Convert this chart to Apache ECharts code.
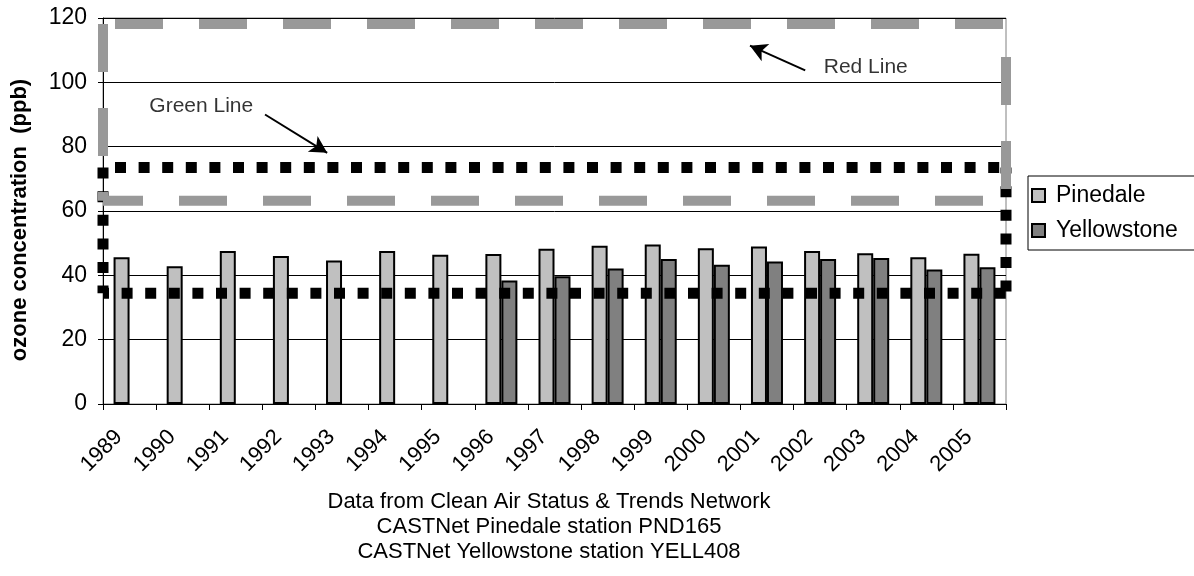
<!DOCTYPE html>
<html>
<head>
<meta charset="utf-8">
<script src="https://cdn.jsdelivr.net/npm/echarts@6/dist/echarts.min.js"></script>
<style>
html,body{margin:0;padding:0;background:#fff;}
#c{width:1194px;height:576px;}
</style>
</head>
<body>
<div id="c"></div>
<script>
// ---- data ----
const years = ['1989','1990','1991','1992','1993','1994','1995','1996','1997','1998','1999','2000','2001','2002','2003','2004','2005'];
const pinedale = [45.6, 42.8, 47.6, 46.0, 44.6, 47.6, 46.4, 46.6, 48.3, 49.2, 49.6, 48.4, 49.0, 47.6, 46.9, 45.6, 46.7];
const yellowstone = [null, null, null, null, null, null, null, 38.4, 39.7, 42.1, 45.1, 43.3, 44.3, 45.1, 45.4, 41.8, 42.5];
const yTicks = [0, 20, 40, 60, 80, 100, 120];
const greenBand = [73.5, 34.4];   // top, bottom (ppb)
const redBand = [118.1, 63.2];    // top, bottom (ppb)
const greenLabel = ['Green Line', 1.85, 92.5];
const greenArrow = [[3.05, 90.0], [4.22, 78.1]];
const redLabel = ['Red Line', 14.36, 104.6];
const redArrow = [[13.22, 103.7], [12.18, 111.4]];
const captionLines = ['Data from Clean Air Status & Trends Network', 'CASTNet Pinedale station PND165', 'CASTNet Yellowstone station YELL408'];

const FONT = '"Liberation Sans", Arial, Helvetica, sans-serif';
const n = years.length;

// one line series per side of a band rectangle, each with its own dash phase
function sides(name, band, style, offsets, z) {
  const [top, bot] = band;
  const segs = [
    [[0, top], [n, top]],   // top, left->right
    [[n, top], [n, bot]],   // right, top->bottom
    [[0, bot], [n, bot]],   // bottom, left->right
    [[0, top], [0, bot]]    // left, top->bottom
  ];
  return segs.map((d, i) => ({
    name: name + i, type: 'line', xAxisIndex: 1, data: d, symbol: 'none', silent: true, z: z,
    lineStyle: Object.assign({}, style, {dashOffset: offsets[i]})
  }));
}

const chart = echarts.init(document.getElementById('c'), null, {renderer:'canvas'});
chart.setOption({
  animation: false,
  textStyle: {fontFamily: FONT},
  grid: {left: 103, right: 188, top: 18, bottom: 172, show: true, borderColor: '#808080', borderWidth: 1, backgroundColor: 'transparent'},
  legend: {
    data: ['Pinedale', 'Yellowstone'],
    orient: 'vertical', left: 1028, top: 176,
    padding: [8, 60, 8, 3],
    borderColor: '#000', borderWidth: 1,
    itemWidth: 13, itemHeight: 13, itemGap: 12,
    icon: 'rect',
    textStyle: {fontFamily: FONT, fontSize: 23, color: '#000', padding: [0, 0, 0, 6]}
  },
  xAxis: [
    {type: 'category', data: years, boundaryGap: true,
     axisLine: {lineStyle: {color: '#000', width: 1}},
     axisTick: {show: true, interval: 0, length: 6, lineStyle: {color: '#000'}},
     axisLabel: {interval: 0, rotate: 45, fontSize: 22, color: '#000', margin: 19, padding: [0, 15, 0, 0], fontFamily: FONT},
     splitLine: {show: false}},
    {type: 'value', min: 0, max: n, show: false}
  ],
  yAxis: {
    type: 'value', min: yTicks[0], max: yTicks[yTicks.length-1], interval: 20,
    name: 'ozone concentration  (ppb)', nameLocation: 'middle', nameGap: 72,
    nameTextStyle: {fontFamily: FONT, fontSize: 22, fontWeight: 'bold', color: '#000', padding: [0, 18, 0, 0]},
    axisLine: {show: true, lineStyle: {color: '#000'}},
    axisTick: {show: true, length: 5, lineStyle: {color: '#000'}},
    axisLabel: {fontSize: 23, color: '#000', margin: 16, fontFamily: FONT},
    splitLine: {show: true, lineStyle: {color: '#000', width: 1}}
  },
  series: [
    {name: 'Pinedale', type: 'bar', data: pinedale, barWidth: 16, barGap: '0%', z: 2,
     itemStyle: {color: '#c0c0c0', borderColor: '#000', borderWidth: 2}},
    {name: 'Yellowstone', type: 'bar', data: yellowstone, barWidth: 16, barGap: '0%', z: 2,
     itemStyle: {color: '#808080', borderColor: '#000', borderWidth: 2}},
    ...sides('green', greenBand, {color: '#000', width: 11, type: [11, 12.6], cap: 'butt'}, [11.6, 5, 5, 0], 5),
    ...sides('red', redBand, {color: '#999999', width: 10, type: [48, 36], cap: 'butt'}, [72, 51, 8, 0], 6),
    {name: 'notes', type: 'scatter', xAxisIndex: 1, symbolSize: 0, silent: true, z: 7,
     data: [[greenLabel[1], greenLabel[2], greenLabel[0]], [redLabel[1], redLabel[2], redLabel[0]]],
     label: {show: true, position: 'inside', formatter: p => p.value[2], fontFamily: FONT, fontSize: 21, color: '#000'},
     markLine: {silent: true, symbol: ['none', 'arrow'], symbolSize: [14, 17], animation: false,
       lineStyle: {color: '#000', width: 2, type: 'solid'}, label: {show: false},
       data: [
         [{coord: greenArrow[0]}, {coord: greenArrow[1]}],
         [{coord: redArrow[0]}, {coord: redArrow[1]}]
       ]}}
  ],
  graphic: captionLines.map((t, i) => ({
    type: 'text', x: 549, y: 502 + i * 25,
    style: {text: t, fontFamily: FONT, fontSize: 22, fill: '#000', align: 'center', verticalAlign: 'middle'}
  }))
});
</script>
</body>
</html>
